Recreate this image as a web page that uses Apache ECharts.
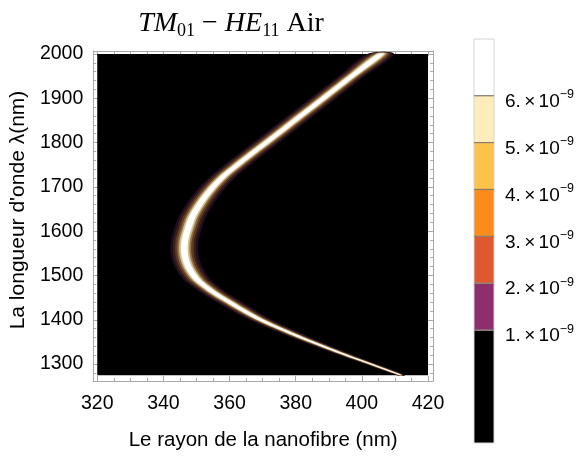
<!DOCTYPE html>
<html><head><meta charset="utf-8">
<script src="https://cdn.jsdelivr.net/npm/echarts@6/dist/echarts.min.js"></script>
<style>html,body{margin:0;padding:0;background:#fff}#c{width:581px;height:456px}</style>
</head><body><div id="c"></div>
<script>
// ridge of the response (centre of the bright band)
const wavelength = [2000,1950,1900,1850,1800,1760,1720,1680,1635,1600,1580,1558,1537,1516,1500,1485,1465,1444,1420,1396,1365,1334,1305,1275];
const radius     = [405.7,397.0,388.4,379.7,371.1,364.1,357.6,352.8,348.9,347.2,346.5,346.3,346.7,347.8,349.2,351.0,354.5,359.0,364.5,370.5,380.0,390.4,400.8,411.8];
// half width (nm, along radius) of the outer 1e-9 contour around the ridge
const spread     = [4.0,4.0,4.0,4.0,4.0,4.0,4.0,4.1,4.2,4.2,4.2,4.2,4.2,4.2,4.2,4.1,4.0,3.9,3.7,3.4,3.0,2.5,1.9,1.2];
// contour levels (x 1e-9)
const levels = [1,2,3,4,5,6];
const xRange = [320,420];
const yRange = [1275,2000];
const xTickLabels = [320,340,360,380,400,420];
const xMinor = [325,330,335,345,350,355,365,370,375,385,390,395,405,410,415];
const yTickLabels = [1300,1400,1500,1600,1700,1800,1900,2000];
const yMinor = [1280,1320,1340,1360,1380,1420,1440,1460,1480,1520,1540,1560,1580,1620,1640,1660,1680,1720,1740,1760,1780,1820,1840,1860,1880,1920,1940,1960,1980];

// styles
const glowFrac = [1.0,0.83,0.66,0.5,0.37,0.24];
const glowColors = ['#1e0c22','#3a1e1c','#5e3e24','#94703e','#d6c298','#ffffff'];
const barColors = ['#000000','#8e2e6a','#df582e','#fb8c1c','#fdc249','#feecba','#ffffff'];
const cbMin = -1.41, cbMax = 7.21;
const frameColor = '#a8a8a8';
const sans = 'Liberation Sans, Arial, sans-serif';
const serif = 'Liberation Serif, Times New Roman, serif';

const chart = echarts.init(document.getElementById('c'));

function axisX(pos, vals, len, labels, extra) {
  return Object.assign({
    type:'value', gridIndex:0, position:pos, min:318.8, max:421.5,
    axisLine:{show:true, onZero:false, lineStyle:{color:frameColor,width:1}},
    axisTick:{show:true, inside:true, length:len, customValues:vals, lineStyle:{color:frameColor}},
    axisLabel:{show:labels, customValues:vals, color:'#000', fontSize:19.5, fontFamily:sans, margin:13, formatter:v=>String(v)},
    splitLine:{show:false}
  }, extra||{});
}
function axisY(pos, vals, len, labels, extra) {
  return Object.assign({
    type:'value', gridIndex:0, position:pos, min:1261.8, max:2006.6,
    axisLine:{show:true, onZero:false, lineStyle:{color:frameColor,width:1}},
    axisTick:{show:true, inside:true, length:len, customValues:vals, lineStyle:{color:frameColor}},
    axisLabel:{show:labels, customValues:vals, color:'#000', fontSize:19.5, fontFamily:sans, margin:10, formatter:v=>String(v)},
    splitLine:{show:false}
  }, extra||{});
}

const bandData = [];
const edges = [cbMin].concat(levels).concat([cbMax]);
for (let i=0;i<edges.length-1;i++) bandData.push([edges[i], edges[i+1], i]);

const option = {
  animation:false,
  backgroundColor:'#fff',
  title:{
    left:226, top:2, textAlign:'center',
    text:'{i|TM}{s|01}{n| − }{i|HE}{s|11}{n| Air}',
    textStyle:{fontWeight:'normal', rich:{
      i:{fontFamily:serif, fontStyle:'italic', fontWeight:'normal', fontSize:28, color:'#000', lineHeight:34},
      n:{fontFamily:serif, fontWeight:'normal', fontSize:28, color:'#000', lineHeight:34},
      s:{fontFamily:serif, fontWeight:'normal', fontSize:18, color:'#000', lineHeight:20, padding:[14,0,0,0]}
    }}
  },
  grid:[
    {left:93, top:51, width:340, height:339, containLabel:false},
    {left:474, top:39, width:20, height:404, containLabel:false}
  ],
  xAxis:[
    axisX('bottom', xTickLabels, 5, true, {name:'Le rayon de la nanofibre (nm)', nameLocation:'middle', nameGap:49,
      nameTextStyle:{fontSize:20.5, fontFamily:sans, color:'#000'}}),
    axisX('bottom', xMinor, 3, false),
    axisX('top', xTickLabels, 5, false),
    axisX('top', xMinor, 3, false),
    {type:'value', gridIndex:1, min:0, max:1, show:false}
  ],
  yAxis:[
    axisY('left', yTickLabels, 5, true, {name:"La longueur d'onde λ(nm)", nameLocation:'middle', nameGap:50, nameRotate:90,
      nameTextStyle:{fontSize:21, fontFamily:sans, color:'#000', padding:[0,0,0,12]}}),
    axisY('left', yMinor, 3, false),
    axisY('right', yTickLabels, 5, false),
    axisY('right', yMinor, 3, false),
    {type:'value', gridIndex:1, position:'right', min:cbMin, max:cbMax,
      axisLine:{show:false},
      axisTick:{show:true, inside:false, length:5, customValues:levels, lineStyle:{color:'#8a8a8a'}},
      axisLabel:{show:true, customValues:levels, margin:11, padding:[12,0,0,0],
        formatter:v=>'{n|'+v+'.} {n|×} {n|10}{s|−9}',
        rich:{n:{fontSize:19, fontFamily:sans, color:'#000', lineHeight:20},
              s:{fontSize:12.5, fontFamily:sans, color:'#000', lineHeight:14, padding:[0,0,14,0]}}},
      splitLine:{show:false}}
  ],
  series:[
    {type:'custom', xAxisIndex:0, yAxisIndex:0, clip:true, silent:true,
      data:[[xRange[0], yRange[0], xRange[1], yRange[1]]],
      renderItem:(p, api)=>{
        const a = api.coord([api.value(0), api.value(1)]);
        const b = api.coord([api.value(2), api.value(3)]);
        return {type:'rect', shape:{x:a[0], y:b[1], width:b[0]-a[0], height:a[1]-b[1]}, style:{fill:'#000'}};
      }},
    {type:'custom', xAxisIndex:0, yAxisIndex:0, clip:true, silent:true,
      data:levels.map((l,k)=>[xRange[0], yRange[0], k]),
      renderItem:(p, api)=>{
        const k = api.value(2);
        const f = glowFrac[k];
        const pts = [];
        for (let i=0;i<wavelength.length;i++) pts.push(api.coord([radius[i]-spread[i]*f, wavelength[i]]));
        for (let i=wavelength.length-1;i>=0;i--) pts.push(api.coord([radius[i]+spread[i]*f, wavelength[i]]));
        return {type:'polygon', shape:{points:pts, smooth:0.3}, style:{fill:glowColors[k]}};
      }},
    {type:'custom', xAxisIndex:4, yAxisIndex:4, silent:true, clip:false,
      data:bandData,
      renderItem:(p, api)=>{
        const lo = api.value(0), hi = api.value(1), k = api.value(2);
        const a = api.coord([0, lo]), b = api.coord([1, hi]);
        const children = [{type:'rect', shape:{x:a[0], y:b[1], width:b[0]-a[0], height:a[1]-b[1]},
          style:{fill:barColors[k], stroke:'#d4d4d4', lineWidth:1}}];
        if (k>0) children.push({type:'line', shape:{x1:a[0], y1:a[1], x2:b[0], y2:a[1]}, style:{stroke:'rgba(70,50,30,0.55)', lineWidth:1.2}});
        return {type:'group', children};
      }}
  ]
};
chart.setOption(option);
</script></body></html>
